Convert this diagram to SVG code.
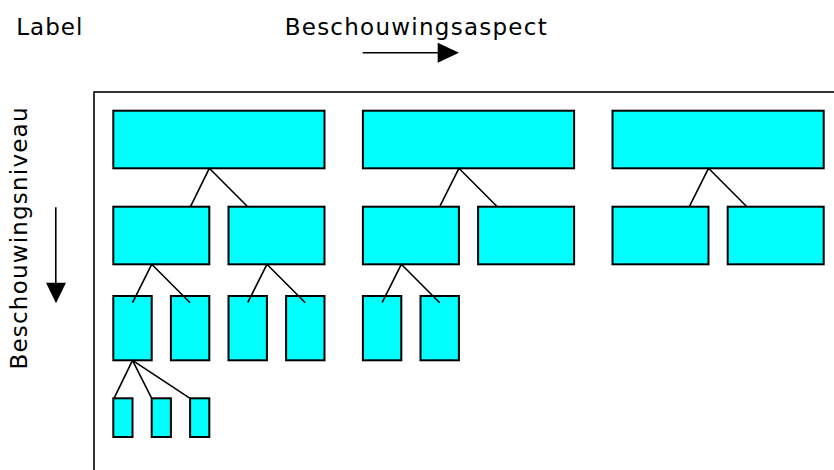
<svg xmlns="http://www.w3.org/2000/svg" width="834" height="470" viewBox="0 0 834 470">
<style>
.lbl{font-family:"DejaVu Sans","Liberation Sans",sans-serif;font-size:23px;fill:#000}
.box{fill:#00FFFF;stroke:#000;stroke-width:2}
.con{stroke:#000;stroke-width:1.6;fill:none}
.frame{fill:none;stroke:#000;stroke-width:1.6}
</style>
<rect width="834" height="470" fill="#fff"/>
<g id="labels">
<text class="lbl" x="16.3" y="35" textLength="66" lengthAdjust="spacing">Label</text>
<text class="lbl" x="284.7" y="34.5" textLength="262" lengthAdjust="spacing">Beschouwingsaspect</text>
<text class="lbl" transform="translate(27,369.5) rotate(-90)" x="0" y="0" textLength="262" lengthAdjust="spacing">Beschouwingsniveau</text>
</g>
<g id="axes">
<line class="con" x1="362.7" y1="52.7" x2="439" y2="52.7"/>
<polygon points="437.7,42.7 459,52.7 437.7,62.7" fill="#000"/>
<line class="con" x1="55.8" y1="207.3" x2="55.8" y2="284"/>
<polygon points="46,282.7 66,282.7 56,303.3" fill="#000"/>
</g>
<rect id="frame" class="frame" x="94" y="92" width="800" height="450"/>
<g id="level1">
<rect id="n1" class="box" x="113.3" y="110.7" width="211.2" height="57.6"/>
<rect id="n2" class="box" x="362.9" y="110.7" width="211.2" height="57.6"/>
<rect id="n3" class="box" x="612.5" y="110.7" width="211.2" height="57.6"/>
</g>
<g id="level2">
<rect id="n1a" class="box" x="113.3" y="206.7" width="96" height="57.6"/>
<rect id="n1b" class="box" x="228.5" y="206.7" width="96" height="57.6"/>
<rect id="n2a" class="box" x="362.9" y="206.7" width="96" height="57.6"/>
<rect id="n2b" class="box" x="478.1" y="206.7" width="96" height="57.6"/>
<rect id="n3a" class="box" x="612.5" y="206.7" width="96" height="57.6"/>
<rect id="n3b" class="box" x="727.7" y="206.7" width="96" height="57.6"/>
</g>
<g id="level3">
<rect id="n1a1" class="box" x="113.3" y="296" width="38.4" height="64.3"/>
<rect id="n1a2" class="box" x="170.9" y="296" width="38.4" height="64.3"/>
<rect id="n1b1" class="box" x="228.5" y="296" width="38.4" height="64.3"/>
<rect id="n1b2" class="box" x="286.1" y="296" width="38.4" height="64.3"/>
<rect id="n2a1" class="box" x="362.9" y="296" width="38.4" height="64.3"/>
<rect id="n2a2" class="box" x="420.5" y="296" width="38.4" height="64.3"/>
</g>
<g id="level4">
<rect id="n1a1a" class="box" x="113.3" y="398.3" width="19.2" height="38.7"/>
<rect id="n1a1b" class="box" x="151.7" y="398.3" width="19.2" height="38.7"/>
<rect id="n1a1c" class="box" x="190.1" y="398.3" width="19.2" height="38.7"/>
</g>
<g id="connectors">
<path class="con" d="M209.3,168.3 L190.5,206.7 M209.3,168.3 L247.7,206.7"/>
<path class="con" d="M458.9,168.3 L439.7,206.7 M458.9,168.3 L497.3,206.7"/>
<path class="con" d="M708.5,168.3 L689.3,206.7 M708.5,168.3 L746.9,206.7"/>
<path class="con" d="M151.7,264.3 L132.5,302.7 M151.7,264.3 L190.1,302.7"/>
<path class="con" d="M266.9,264.3 L247.7,302.7 M266.9,264.3 L305.3,302.7"/>
<path class="con" d="M401.3,264.3 L382.1,302.7 M401.3,264.3 L439.7,302.7"/>
<path class="con" d="M132.5,360.3 L114,398.3 M132.5,360.3 L151.7,398.3 M132.5,360.3 L190.1,398.3"/>
</g>
</svg>
